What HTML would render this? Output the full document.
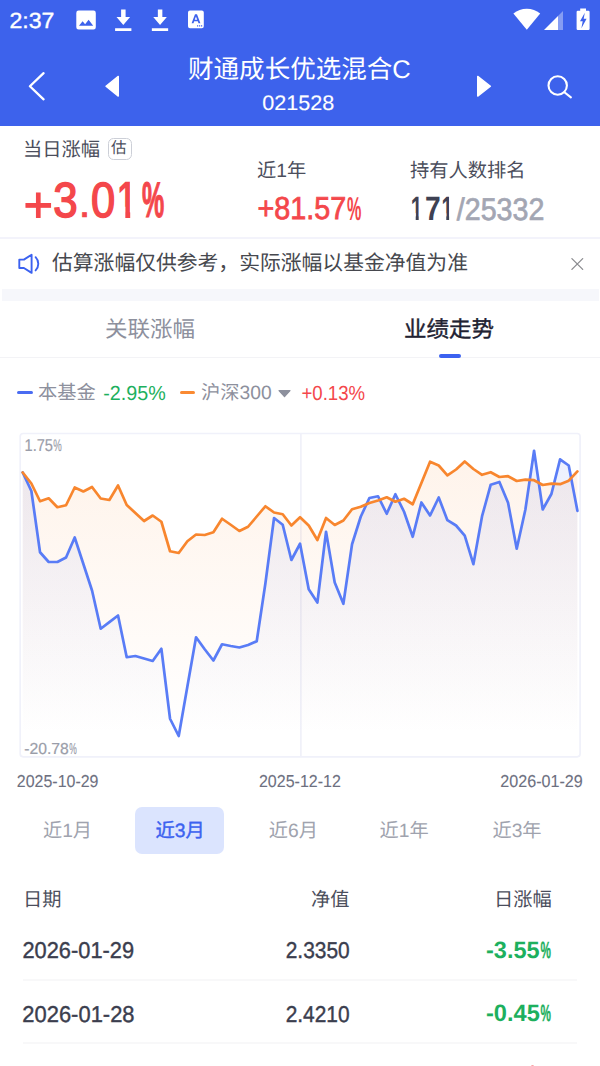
<!DOCTYPE html>
<html lang="zh-CN">
<head>
<meta charset="utf-8">
<meta name="viewport" content="width=600">
<title>财通成长优选混合C 021528</title>
<style>
*{box-sizing:border-box;margin:0;padding:0}
html,body{width:600px;height:1066px;background:#fff;overflow:hidden}
body{font-family:"Liberation Sans","Noto Sans CJK SC",sans-serif;color:#3b3e4e;-webkit-font-smoothing:antialiased;text-rendering:geometricPrecision;font-kerning:none}
#app{position:relative;width:600px;height:1066px;overflow:hidden;background:#fff}
.abs{position:absolute}
/* latin text in Liberation Sans, absolutely placed, horizontally condensed via scaleX */
.lt{position:absolute;white-space:nowrap;line-height:1;transform-origin:0 0;display:block}
/* CJK run: real text */
.cw{position:absolute;display:block;line-height:0;white-space:nowrap}
.cj{position:relative;display:inline-block;vertical-align:top;line-height:0}
.cj .tx{position:absolute;left:0;top:.03em;height:1em;line-height:1;white-space:nowrap;font-family:"Liberation Sans","Noto Sans CJK SC",sans-serif}
svg{display:block}
.hdr{position:absolute;left:0;top:0;width:600px;height:126px;background:#3d62ec}
.sep{position:absolute;left:0;width:600px;background:#eef0f8}
.band{position:absolute;left:1.5px;top:288.7px;width:597px;height:12px;background:#f6f7fb}
.badge{position:absolute;left:107.6px;top:138.1px;width:24.2px;height:22px;border:1.3px solid #cccfd7;border-radius:5.5px}
.ind{position:absolute;left:439.2px;top:354.2px;width:21.6px;height:3.7px;border-radius:2px;background:#3c62f0}
.dash{position:absolute;top:390.8px;width:15.4px;height:3.4px;border-radius:2px}
.pbtn{position:absolute;left:134.8px;top:807px;width:89.6px;height:46.8px;border-radius:7px;background:#dbe4fe}
.rowline{position:absolute;left:23px;width:554px;height:2px;background:#f8f8f9}
</style>
</head>
<body>
<div id="app">

  <!-- ===== status bar + title bar ===== -->
  <header class="hdr">
    <div class="statusbar">
      <span id="time" class="lt" style="left:9px;top:10px;font-size:22.01px;color:#fff;transform:translateX(0.53px) scale(1.0493,1);-webkit-text-stroke:0.4px #fff">2:37</span>
      <svg class="abs" style="left:0;top:0" width="600" height="40" viewBox="0 0 600 40" aria-hidden="true">
        <!-- picture icon -->
        <path fill="#fff" fill-rule="evenodd" d="M78.6 10.6h14.9a2.3 2.3 0 0 1 2.3 2.3v14.3a2.3 2.3 0 0 1-2.3 2.3H78.6a2.3 2.3 0 0 1-2.3-2.3V12.9a2.3 2.3 0 0 1 2.3-2.3zM79 25.8h14.2l-4.6-6.1-3.5 4.6-2.5-3.1z"/>
        <!-- download 1 -->
        <path fill="#fff" d="M121.1 9.5h4.5v7.6h4.5l-6.8 7.9-6.8-7.9h4.6zM115.1 28.2h16.3v2.8h-16.3z"/>
        <!-- download 2 -->
        <path fill="#fff" d="M157.85 9.5h4.5v7.6h4.5l-6.8 7.9-6.8-7.9h4.6zM151.85 28.2h16.3v2.8h-16.3z"/>
        <!-- keyboard/A icon -->
        <path fill="#fff" fill-rule="evenodd" d="M190 10.5h11.8a2 2 0 0 1 2 2v13.8a2 2 0 0 1-2 2H190a2 2 0 0 1-2-2V12.5a2 2 0 0 1 2-2zM195 14.2l-3.4 9h1.9l.7-2h3.6l.7 2h1.9l-3.4-9zM195.95 16.6l1.25 3.2h-2.5zM197 25.3h1.2v1.2H197zM199 25.3h1.2v1.2H199zM201 25.3h1.2v1.2H201z"/>
        <!-- wifi -->
        <path fill="#fff" d="M526.8 29.8L513.4 13.4a21.2 21.2 0 0 1 26.8 0z"/>
        <!-- signal -->
        <path fill="#fff" d="M544 30L558 16v14z"/>
        <path fill="#fff" fill-opacity=".38" d="M558 16l5-5v19h-5z"/>
        <!-- battery -->
        <path fill="#fff" fill-rule="evenodd" d="M580.2 8.4h5.8v2.4h2.4a1.2 1.2 0 0 1 1.2 1.2v16.8a1.2 1.2 0 0 1-1.2 1.2h-10.6a1.2 1.2 0 0 1-1.2-1.2V12a1.2 1.2 0 0 1 1.2-1.2h2.4zM584.8 12.8L580 21.2h2.7l-1.3 7 5.2-9.4h-2.9z"/>
      </svg>
    </div>
    <div class="navbar">
      <svg class="abs" style="left:0;top:40px" width="600" height="86" viewBox="0 40 600 86" aria-hidden="true">
        <!-- back chevron -->
        <polyline fill="none" stroke="#fff" stroke-width="2.3" stroke-linecap="round" stroke-linejoin="round" points="43.6,73.2 29.9,86.25 43.6,99.3"/>
        <!-- previous fund -->
        <path fill="#fff" stroke="#fff" stroke-width="1.4" stroke-linejoin="round" d="M118.3 76.4v19.7L106 86.25z"/>
        <!-- next fund -->
        <path fill="#fff" stroke="#fff" stroke-width="1.4" stroke-linejoin="round" d="M477.7 76.4v19.7L490.4 86.25z"/>
        <!-- search -->
        <circle cx="557.7" cy="85.5" r="9.2" fill="none" stroke="#fff" stroke-width="2.1"/>
        <path d="M564.4 92.2l6.5 5.2" fill="none" stroke="#fff" stroke-width="2.1" stroke-linecap="round"/>
      </svg>
      <span id="title" class="cw" style="left:188px;top:57px"><span class="cj" style="width:220.79px;height:25.56px"><span class="tx" style="font-size:25.56px;color:#fff">财通成长优选混合C</span></span></span>
      <span id="code" class="lt" style="left:262px;top:94px;font-size:20.96px;color:#fff;transform:translateX(0.14px) scale(1.0327,1);-webkit-text-stroke:0.12px #fff">021528</span>
    </div>
  </header>

  <!-- ===== key figures ===== -->
  <section class="stats">
    <div class="stat">
      <span id="lbl1" class="cw" style="left:23px;top:140px"><span class="cj" style="width:77px;height:19.25px"><span class="tx" style="font-size:19.25px;color:#4b4e5c">当日涨幅</span></span></span>
      <div class="badge"></div>
      <span id="est" class="cw" style="left:111px;top:141px"><span class="cj" style="width:15.56px;height:15.56px"><span class="tx" style="font-size:15.56px;color:#4b4e5c">估</span></span></span>
      <span id="big0" class="lt" style="left:23px;top:180px;font-size:50.12px;color:#f4474b;transform:translateX(0.46px) scale(1.0098,1);-webkit-text-stroke:1px #f4474b">+</span><span id="big1" class="lt" style="left:53px;top:176px;font-size:49.33px;color:#f4474b;transform:translateX(0.33px) scale(0.891,1);-webkit-text-stroke:1.5px #f4474b">3</span><span id="big2" class="lt" style="left:78px;top:183px;font-size:40.78px;color:#f4474b;transform:translateX(0.43px) scale(1.067,1);-webkit-text-stroke:0.6px #f4474b">.</span><span id="big3" class="lt" style="left:91px;top:176px;font-size:49.33px;color:#f4474b;transform:translateX(0.1px) scale(0.8807,1);-webkit-text-stroke:1.5px #f4474b">0</span><span id="big4" class="lt" style="left:117px;top:175px;font-size:52.84px;color:#f4474b;transform:translateX(0.23px) scale(0.6482,1);font-weight:bold;clip-path:polygon(0 0,.38em 0,.38em .9em,.236em .9em,.236em .6em,0 .6em)">1</span><span id="bigp" class="lt" style="left:142px;top:175px;font-size:50.12px;color:#f4474b;transform:translateX(0.08px) scale(0.4978,1);font-weight:bold;-webkit-text-stroke:1.2px #f4474b">%</span>
    </div>
    <div class="stat">
      <span id="lbl2" class="cw" style="left:257px;top:161px"><span class="cj" style="width:49.18px;height:19.25px"><span class="tx" style="font-size:19.25px;color:#4b4e5c">近1年</span></span></span>
      <span id="v2" class="lt" style="left:257px;top:193px;font-size:31.8px;color:#f4474b;transform:translateX(0.56px) scale(0.9035,1);-webkit-text-stroke:0.8px #f4474b">+81.57</span><span id="v2p" class="lt" style="left:346px;top:192px;font-size:33.01px;color:#f4474b;transform:translateX(0.98px) scale(0.4905,1);font-weight:bold">%</span>
    </div>
    <div class="stat">
      <span id="lbl3" class="cw" style="left:410px;top:161px"><span class="cj" style="width:115.5px;height:19.25px"><span class="tx" style="font-size:19.25px;color:#4b4e5c">持有人数排名</span></span></span>
      <span id="v3a0" class="lt" style="left:410px;top:193px;font-size:33.78px;color:#3e4153;transform:translateX(0.63px) scale(0.6351,1);font-weight:bold;clip-path:polygon(0 0,.38em 0,.38em .9em,.236em .9em,.236em .6em,0 .6em)">1</span><span id="v3a1" class="lt" style="left:424px;top:193px;font-size:33.78px;color:#3e4153;transform:translateX(0.9px) scale(0.8342,1);font-weight:bold">7</span><span id="v3a2" class="lt" style="left:441px;top:193px;font-size:33.78px;color:#3e4153;transform:translateX(0.38px) scale(0.6164,1);font-weight:bold;clip-path:polygon(0 0,.38em 0,.38em .9em,.236em .9em,.236em .6em,0 .6em)">1</span><span id="v3b" class="lt" style="left:456px;top:194px;font-size:31.34px;color:#a3a6b3;transform:translateX(0.76px) scale(0.9136,1);-webkit-text-stroke:0.7px #a3a6b3">/25332</span>
    </div>
  </section>
  <div class="sep" style="top:237px;height:2px;background:#f3f3fb"></div>

  <!-- ===== notice ===== -->
  <section class="notice">
    <svg class="abs" style="left:14px;top:250px" width="30" height="28" viewBox="14 250 30 28" aria-hidden="true">
      <path fill="none" stroke="#3c62f0" stroke-width="1.9" stroke-linejoin="round" stroke-linecap="round" d="M19.3 259.6h4.6l7.7-4.9v18.2l-7.7-4.9h-4.6z"/>
      <path fill="none" stroke="#3c62f0" stroke-width="1.9" stroke-linecap="round" d="M35.6 257.2c3.6 3.6 3.6 9.6 0 13.2"/>
    </svg>
    <span id="notice" class="cw" style="left:52px;top:253px"><span class="cj" style="width:416px;height:20.8px"><span class="tx" style="font-size:20.8px;color:#46484e">估算涨幅仅供参考，实际涨幅以基金净值为准</span></span></span>
    <svg class="abs" style="left:568px;top:253px" width="20" height="20" viewBox="568 253 20 20" aria-hidden="true">
      <path fill="none" stroke="#8b8c90" stroke-width="1.3" stroke-linecap="round" d="M571.9 258.6l10.8 10.8M582.7 258.6l-10.8 10.8"/>
    </svg>
  </section>
  <div class="band"></div>

  <!-- ===== tabs ===== -->
  <div class="sep" style="top:357px;height:1px;background:#f3f3f6"></div>
  <nav class="tabs">
    <span id="tab1" class="cw" style="left:105px;top:318px"><span class="cj" style="width:90px;height:22.5px"><span class="tx" style="font-size:22.5px;color:#8d909d">关联涨幅</span></span></span>
    <span id="tab2" class="cw" style="left:404px;top:318px"><span class="cj" style="width:90px;height:22.5px"><span class="tx" style="font-size:22.5px;color:#1f2232;-webkit-text-stroke:0.4px #1f2232">业绩走势</span></span></span>
    <div class="ind"></div>
  </nav>

  <!-- ===== legend ===== -->
  <section class="legend">
    <div class="dash" style="left:17.3px;background:#4a6cf2"></div>
    <span id="leg1" class="cw" style="left:38px;top:383px"><span class="cj" style="width:57.75px;height:19.25px"><span class="tx" style="font-size:19.25px;color:#8d909d">本基金</span></span></span>
    <span id="leg1v" class="lt" style="left:103px;top:384px;font-size:20.33px;color:#1db05e;transform:translateX(0.25px) scale(0.9707,1)">-2.95%</span>
    <div class="dash" style="left:180px;background:#fa8a32"></div>
    <span id="leg2" class="cw" style="left:201px;top:383px"><span class="cj" style="width:70.55px;height:19.25px"><span class="tx" style="font-size:19.25px;color:#8d909d">沪深300</span></span></span>
    <svg class="abs" style="left:276px;top:387px" width="18" height="14" viewBox="276 387 18 14" aria-hidden="true">
      <path fill="#8d909d" stroke="#8d909d" stroke-width="1.2" stroke-linejoin="round" d="M279 390.7h11l-5.5 6z"/>
    </svg>
    <span id="leg2v" class="lt" style="left:301px;top:384px;font-size:20.33px;color:#f4474b;transform:translateX(0.46px) scale(0.9163,1)">+0.13%</span>
  </section>

  <!-- ===== chart ===== -->
  <section class="chart">
    <svg class="abs" style="left:0;top:425px" width="600" height="340" viewBox="0 425 600 340" aria-hidden="true">
      <defs>
        <linearGradient id="go" gradientUnits="userSpaceOnUse" x1="0" y1="455" x2="0" y2="735">
          <stop offset="0" stop-color="#fa8a32" stop-opacity=".1"/>
          <stop offset="1" stop-color="#fa8a32" stop-opacity="0"/>
        </linearGradient>
        <linearGradient id="gb" gradientUnits="userSpaceOnUse" x1="0" y1="445" x2="0" y2="735">
          <stop offset="0" stop-color="#4a6cf2" stop-opacity=".105"/>
          <stop offset="1" stop-color="#4a6cf2" stop-opacity="0"/>
        </linearGradient>
      </defs>
      <rect x="20.2" y="433.5" width="559.9" height="323.3" rx="3" fill="#fff" stroke="#f0f1fa" stroke-width="1.7"/>
      <line x1="300.9" y1="434" x2="300.9" y2="756.5" stroke="#f0f1f9" stroke-width="1.7"/>
      <polygon fill="url(#go)" points="22.7,472.5 31.37,483.5 40.03,501.25 48.7,498.25 57.37,507.25 66.04,505.25 74.7,487.5 83.37,491.5 92.04,487 100.7,498.5 109.37,500 118.04,485.5 126.71,505 135.37,513 144.04,521 152.71,515.5 161.37,521.75 170.04,551.25 178.71,553 187.38,541.25 196.04,534.5 204.71,535 213.38,532.25 222.05,518.75 230.71,524.75 239.38,531 248.05,526.75 256.71,516.5 265.38,506.25 274.05,512.5 282.72,514.25 291.38,525.5 300.05,517.25 308.72,525.5 317.38,540 326.05,518 334.72,525 343.39,520.5 352.05,509.25 360.72,506.75 369.39,503 378.05,500.5 386.72,497.25 395.39,501.75 404.06,498.75 412.72,504.25 421.39,483 430.06,461.75 438.72,465.5 447.39,475.4 456.06,469.5 464.73,461.5 473.39,469 482.06,474.8 490.73,472.2 499.4,477 508.06,476.2 516.73,481 525.4,479.6 534.06,480.2 542.73,485 551.4,483.6 560.07,484.2 568.73,480.7 577.4,471.4 577.4,756.5 22.7,756.5"/>
      <polygon fill="url(#gb)" points="22.7,472.5 31.37,491 40.03,552.25 48.7,562 57.37,562 66.04,557.5 74.7,537.5 83.37,564 92.04,590.5 100.7,628.75 109.37,622.1 118.04,615.5 126.71,657.25 135.37,656 144.04,658.5 152.71,661 161.37,648.75 170.04,718.75 178.71,736 187.38,686.5 196.04,637.25 204.71,649.25 213.38,660.5 222.05,644.25 230.71,646 239.38,647.5 248.05,645 256.71,641.25 265.38,583.5 274.05,518 282.72,524.75 291.38,560 300.05,543.75 308.72,589.25 317.38,602.5 326.05,531.75 334.72,582.5 343.39,603.75 352.05,544.25 360.72,516.75 369.39,498 378.05,496.25 386.72,513.75 395.39,494.25 404.06,511.75 412.72,536.75 421.39,502.5 430.06,515.5 438.72,497.5 447.39,520.2 456.06,525.5 464.73,535.6 473.39,564.2 482.06,516.2 490.73,484.7 499.4,482 508.06,502.8 516.73,548.7 525.4,509.5 534.06,450.8 542.73,509.5 551.4,494 560.07,459.4 568.73,465.5 577.4,510.8 577.4,756.5 22.7,756.5"/>
      <polyline fill="none" stroke="#597cf6" stroke-width="2.7" stroke-linejoin="round" stroke-linecap="round" points="22.7,472.5 31.37,491 40.03,552.25 48.7,562 57.37,562 66.04,557.5 74.7,537.5 83.37,564 92.04,590.5 100.7,628.75 109.37,622.1 118.04,615.5 126.71,657.25 135.37,656 144.04,658.5 152.71,661 161.37,648.75 170.04,718.75 178.71,736 187.38,686.5 196.04,637.25 204.71,649.25 213.38,660.5 222.05,644.25 230.71,646 239.38,647.5 248.05,645 256.71,641.25 265.38,583.5 274.05,518 282.72,524.75 291.38,560 300.05,543.75 308.72,589.25 317.38,602.5 326.05,531.75 334.72,582.5 343.39,603.75 352.05,544.25 360.72,516.75 369.39,498 378.05,496.25 386.72,513.75 395.39,494.25 404.06,511.75 412.72,536.75 421.39,502.5 430.06,515.5 438.72,497.5 447.39,520.2 456.06,525.5 464.73,535.6 473.39,564.2 482.06,516.2 490.73,484.7 499.4,482 508.06,502.8 516.73,548.7 525.4,509.5 534.06,450.8 542.73,509.5 551.4,494 560.07,459.4 568.73,465.5 577.4,510.8"/>
      <polyline fill="none" stroke="#f8862e" stroke-width="2.7" stroke-linejoin="round" stroke-linecap="round" points="22.7,472.5 31.37,483.5 40.03,501.25 48.7,498.25 57.37,507.25 66.04,505.25 74.7,487.5 83.37,491.5 92.04,487 100.7,498.5 109.37,500 118.04,485.5 126.71,505 135.37,513 144.04,521 152.71,515.5 161.37,521.75 170.04,551.25 178.71,553 187.38,541.25 196.04,534.5 204.71,535 213.38,532.25 222.05,518.75 230.71,524.75 239.38,531 248.05,526.75 256.71,516.5 265.38,506.25 274.05,512.5 282.72,514.25 291.38,525.5 300.05,517.25 308.72,525.5 317.38,540 326.05,518 334.72,525 343.39,520.5 352.05,509.25 360.72,506.75 369.39,503 378.05,500.5 386.72,497.25 395.39,501.75 404.06,498.75 412.72,504.25 421.39,483 430.06,461.75 438.72,465.5 447.39,475.4 456.06,469.5 464.73,461.5 473.39,469 482.06,474.8 490.73,472.2 499.4,477 508.06,476.2 516.73,481 525.4,479.6 534.06,480.2 542.73,485 551.4,483.6 560.07,484.2 568.73,480.7 577.4,471.4"/>
    </svg>
    <span id="ymax" class="lt" style="left:24px;top:437px;font-size:17.12px;color:#9a9da9;transform:translateX(0.57px) scale(0.8531,1);-webkit-text-stroke:0.2px #9a9da9">1.75</span><span id="ymaxp" class="lt" style="left:53px;top:438px;font-size:16.78px;color:#9a9da9;transform:translateX(0.16px) scale(0.5702,1);-webkit-text-stroke:0.2px #9a9da9">%</span>
    <span id="ymin" class="lt" style="left:24px;top:742px;font-size:15.93px;color:#9a9da9;transform:translateX(0.25px) scale(0.9852,1);-webkit-text-stroke:0.2px #9a9da9">-20.78</span><span id="yminp" class="lt" style="left:69px;top:742px;font-size:15.81px;color:#9a9da9;transform:translateX(0.28px) scale(0.5371,1);-webkit-text-stroke:0.2px #9a9da9">%</span>
    <span id="d1" class="lt" style="left:16px;top:773px;font-size:17.33px;color:#6d707f;transform:translateX(0.85px) scale(0.9205,1);-webkit-text-stroke:0.1px #6d707f">2025-10-29</span>
    <span id="d2" class="lt" style="left:258px;top:773px;font-size:17.33px;color:#6d707f;transform:translateX(0.93px) scale(0.9249,1);-webkit-text-stroke:0.1px #6d707f">2025-12-12</span>
    <span id="d3" class="lt" style="left:500px;top:773px;font-size:17.33px;color:#6d707f;transform:translateX(0.29px) scale(0.9304,1);-webkit-text-stroke:0.1px #6d707f">2026-01-29</span>
  </section>

  <!-- ===== period selector ===== -->
  <nav class="periods">
    <div class="pbtn"></div>
    <span id="p1" class="cw" style="left:42px;top:821px"><span class="cj" style="width:49.18px;height:19.25px"><span class="tx" style="font-size:19.25px;color:#a0a3ae;left:0.9px">近1月</span></span></span>
    <span id="p2" class="cw" style="left:155px;top:821px"><span class="cj" style="width:49.18px;height:19.25px"><span class="tx" style="font-size:19.25px;color:#3c62f0;left:0.6px;-webkit-text-stroke:0.4px #3c62f0">近3月</span></span></span>
    <span id="p3" class="cw" style="left:268px;top:821px"><span class="cj" style="width:49.18px;height:19.25px"><span class="tx" style="font-size:19.25px;color:#a0a3ae;left:0.8px">近6月</span></span></span>
    <span id="p4" class="cw" style="left:379px;top:821px"><span class="cj" style="width:49.18px;height:19.25px"><span class="tx" style="font-size:19.25px;color:#a0a3ae;left:0.5px">近1年</span></span></span>
    <span id="p5" class="cw" style="left:492px;top:821px"><span class="cj" style="width:49.18px;height:19.25px"><span class="tx" style="font-size:19.25px;color:#a0a3ae;left:0.4px">近3年</span></span></span>
  </nav>

  <!-- ===== history table ===== -->
  <section class="history">
    <div class="thead">
      <span id="th1" class="cw" style="left:23px;top:890px"><span class="cj" style="width:38.5px;height:19.25px"><span class="tx" style="font-size:19.25px;color:#4b4e5c">日期</span></span></span>
      <span id="th2" class="cw" style="left:311px;top:890px"><span class="cj" style="width:38.5px;height:19.25px"><span class="tx" style="font-size:19.25px;color:#4b4e5c">净值</span></span></span>
      <span id="th3" class="cw" style="left:494px;top:890px"><span class="cj" style="width:57.75px;height:19.25px"><span class="tx" style="font-size:19.25px;color:#4b4e5c">日涨幅</span></span></span>
    </div>
    <div class="trow">
      <span id="r1c1" class="lt" style="left:22px;top:939px;font-size:22.84px;color:#3b3e4e;transform:translateX(0.41px) scale(0.9565,1);-webkit-text-stroke:0.4px #3b3e4e">2026-01-29</span>
      <span id="r1c2" class="lt" style="left:285px;top:939px;font-size:22.84px;color:#3b3e4e;transform:translateX(0.73px) scale(0.9158,1);-webkit-text-stroke:0.4px #3b3e4e">2.3350</span>
      <span id="r1c3" class="lt" style="left:486px;top:940px;font-size:23.7px;color:#1db05e;transform:translateX(0.02px) scale(0.992,1);font-weight:bold">-3.55</span><span id="r1c3p" class="lt" style="left:540px;top:939px;font-size:23.33px;color:#1db05e;transform:translateX(0.52px) scale(0.5023,1);font-weight:bold;-webkit-text-stroke:0.4px #1db05e">%</span>
    </div>
    <div class="rowline" style="top:979px"></div>
    <div class="trow">
      <span id="r2c1" class="lt" style="left:22px;top:1003px;font-size:22.84px;color:#3b3e4e;transform:translateX(0.3px) scale(0.9614,1);-webkit-text-stroke:0.4px #3b3e4e">2026-01-28</span>
      <span id="r2c2" class="lt" style="left:285px;top:1003px;font-size:22.84px;color:#3b3e4e;transform:translateX(0.63px) scale(0.9158,1);-webkit-text-stroke:0.4px #3b3e4e">2.4210</span>
      <span id="r2c3" class="lt" style="left:485px;top:1003px;font-size:23.7px;color:#1db05e;transform:translateX(0.94px) scale(0.9969,1);font-weight:bold">-0.45</span><span id="r2c3p" class="lt" style="left:540px;top:1002px;font-size:23.33px;color:#1db05e;transform:translateX(0.52px) scale(0.5023,1);font-weight:bold;-webkit-text-stroke:0.4px #1db05e">%</span>
    </div>
    <div class="rowline" style="top:1042px"></div>
    <div class="abs" style="left:530.6px;top:1064.6px;width:3.4px;height:2px;border-radius:1.5px 1.5px 0 0;background:#f9a0a3"></div>
  </section>

</div>
</body>
</html>
